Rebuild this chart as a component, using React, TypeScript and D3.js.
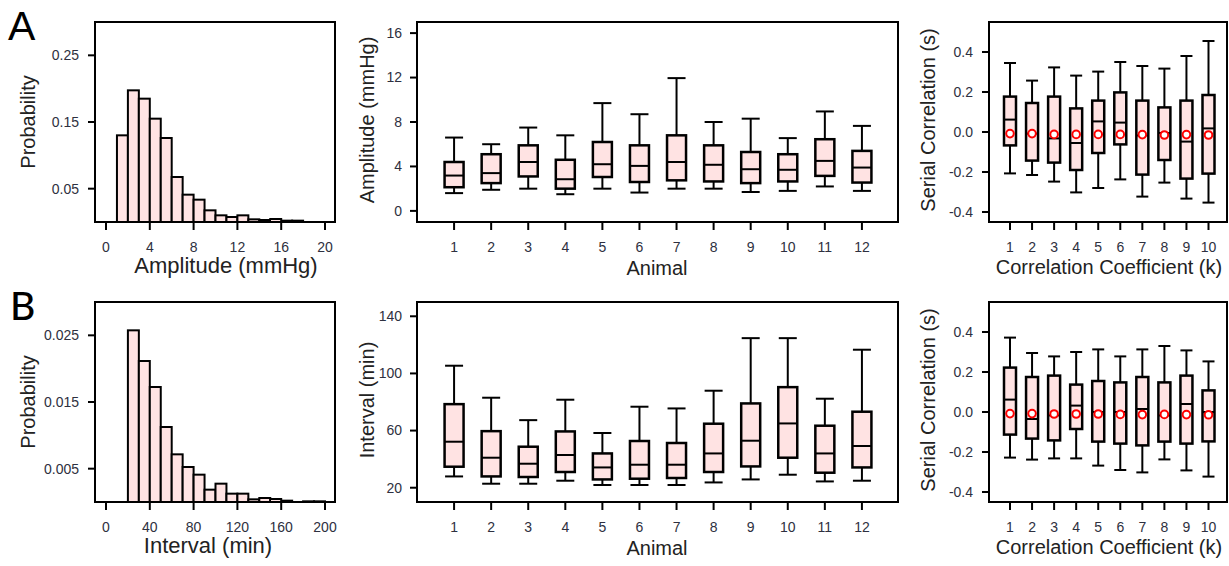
import React from "react";
import * as d3 from "d3";

// ---------- DATA ----------
// Panel A histogram (Amplitude, mmHg), bins of width 1
const ampBinLo = [1, 2, 3, 4, 5, 6, 7, 8, 9, 10, 11, 12, 13, 14, 15, 16, 17];
const ampProb = [0.13, 0.1975, 0.185, 0.155, 0.126, 0.0675, 0.041, 0.0335, 0.0175, 0.01, 0.0075, 0.01, 0.004, 0.003, 0.0045, 0.002, 0.002];
const ampHistXTicks = [0, 4, 8, 12, 16, 20];
const ampHistYTicks = [0.05, 0.15, 0.25];
const ampHistYLabels = ["0.05", "0.15", "0.25"];

// Panel B histogram (Interval, min), bins of width 10
const intBinLo = [20, 30, 40, 50, 60, 70, 80, 90, 100, 110, 120, 130, 140, 150, 160, 170, 180, 190];
const intProb = [0.02575, 0.02115, 0.01725, 0.01125, 0.00715, 0.00525, 0.0041, 0.00185, 0.00275, 0.00125, 0.00125, 0.0004, 0.0006, 0.00045, 0.0002, 0, 0.0001, 0.0001];
const intHistXTicks = [0, 40, 80, 120, 160, 200];
const intHistYTicks = [0.005, 0.015, 0.025];
const intHistYLabels = ["0.005", "0.015", "0.025"];

// Animals
const animals = [1, 2, 3, 4, 5, 6, 7, 8, 9, 10, 11, 12];
const ampHi = [6.6, 6.0, 7.5, 6.8, 9.7, 8.7, 11.95, 8.0, 8.3, 6.55, 8.95, 7.65];
const ampQ3 = [4.4, 5.1, 5.9, 4.6, 6.2, 5.9, 6.8, 5.9, 5.3, 5.1, 6.45, 5.4];
const ampMed = [3.18, 3.4, 4.4, 2.85, 4.2, 4.05, 4.4, 4.15, 3.75, 3.7, 4.5, 3.9];
const ampQ1 = [2.13, 2.5, 3.1, 2.0, 3.05, 2.6, 2.75, 2.65, 2.5, 2.65, 3.15, 2.55];
const ampLo = [1.6, 1.9, 2.0, 1.5, 2.0, 1.65, 2.0, 2.0, 1.7, 1.8, 2.2, 1.8];
const ampBoxYTicks = [0, 4, 8, 12, 16];

const intHi = [105.4, 83, 67.3, 81.6, 58.3, 76.7, 75.5, 87.9, 124.7, 124.7, 82.3, 116.6];
const intQ3 = [78.5, 59.6, 48.7, 59.4, 44, 52.7, 51.3, 64.8, 79, 90.4, 63.4, 73.2];
const intMed = [52.2, 41, 36.8, 42.9, 34.2, 36.1, 36.1, 44, 52.9, 65, 44, 49.2];
const intQ1 = [34.7, 27.9, 27.5, 31, 25.8, 26.3, 26.8, 31, 34.9, 41, 30.5, 34.2];
const intLo = [27.9, 22.8, 22.8, 24.9, 21.9, 21.9, 21.9, 23.7, 25.8, 29.1, 24.4, 24.9];
const intBoxYTicks = [20, 60, 100, 140];

// Serial correlation, lags k = 1..10
const lags = [1, 2, 3, 4, 5, 6, 7, 8, 9, 10];
const serAHi = [0.345, 0.257, 0.323, 0.282, 0.302, 0.35, 0.33, 0.317, 0.38, 0.455];
const serAQ3 = [0.177, 0.145, 0.177, 0.118, 0.157, 0.198, 0.157, 0.123, 0.157, 0.185];
const serAMed = [0.062, -0.008, -0.032, -0.055, 0.053, 0.047, -0.017, -0.005, -0.048, 0.018];
const serAQ1 = [-0.067, -0.143, -0.153, -0.19, -0.105, -0.062, -0.213, -0.14, -0.233, -0.208];
const serALo = [-0.207, -0.215, -0.248, -0.302, -0.28, -0.237, -0.323, -0.253, -0.333, -0.353];
const serAMean = [-0.008, -0.008, -0.012, -0.012, -0.012, -0.012, -0.013, -0.015, -0.013, -0.015];

const serBHi = [0.372, 0.295, 0.278, 0.3, 0.313, 0.278, 0.313, 0.33, 0.308, 0.253];
const serBQ3 = [0.222, 0.175, 0.182, 0.137, 0.155, 0.148, 0.175, 0.148, 0.182, 0.108];
const serBMed = [0.062, -0.035, -0.017, 0.032, 0.0, 0.0, 0.015, -0.017, 0.04, 0.0];
const serBQ1 = [-0.113, -0.133, -0.142, -0.085, -0.148, -0.158, -0.167, -0.148, -0.158, -0.147];
const serBLo = [-0.228, -0.238, -0.232, -0.232, -0.268, -0.29, -0.302, -0.237, -0.292, -0.323];
const serBMean = [-0.008, -0.008, -0.01, -0.01, -0.01, -0.012, -0.013, -0.012, -0.013, -0.014];
const serYTicks = [-0.4, -0.2, 0.0, 0.2, 0.4];
const serYLabels = ["-0.4", "-0.2", "0.0", "0.2", "0.4"];

// ---------- STYLE ----------
const FONT = "'Liberation Sans', Arial, Helvetica, sans-serif";
const FILL = "#ffe3e3";
const TICK_COLOR = "#2e3040";
const TITLE_COLOR = "#222";
const LW = 2;
const BOX_LW = 2.5;

type Frame = { left: number; right: number; top: number; bottom: number };

function YAxis({ f, y, ticks, labels, labelX, title, titleX, titleY }: any) {
  return (
    <g>
      {ticks.map((t: number, i: number) => (
        <g key={i}>
          <line x1={f.left - 7} x2={f.left} y1={y(t)} y2={y(t)} stroke="#000" strokeWidth={LW} />
          <text x={labelX} y={y(t)} dy="0.35em" textAnchor="end" fontSize={14} fill={TICK_COLOR} fontFamily={FONT}>
            {labels ? labels[i] : String(t)}
          </text>
        </g>
      ))}
      <text
        transform={`translate(${titleX},${titleY}) rotate(-90)`}
        textAnchor="middle"
        dominantBaseline="central"
        fontSize={20}
        fill={TITLE_COLOR}
        fontFamily={FONT}
      >
        {title}
      </text>
    </g>
  );
}

function XAxis({ f, x, ticks, labelY, title, titleX, titleY, titleSize }: any) {
  return (
    <g>
      {ticks.map((t: number, i: number) => (
        <g key={i}>
          <line x1={x(t)} x2={x(t)} y1={f.bottom} y2={f.bottom + 8} stroke="#000" strokeWidth={LW} />
          <text x={x(t)} y={labelY} textAnchor="middle" fontSize={14} fill={TICK_COLOR} fontFamily={FONT}>
            {String(t)}
          </text>
        </g>
      ))}
      <text x={titleX} y={titleY} textAnchor="middle" fontSize={titleSize || 20} fill={TITLE_COLOR} fontFamily={FONT}>
        {title}
      </text>
    </g>
  );
}

function FrameRect({ f }: { f: Frame }) {
  return (
    <rect x={f.left} y={f.top} width={f.right - f.left} height={f.bottom - f.top} fill="none" stroke="#000" strokeWidth={LW} />
  );
}

function Hist({ off, binLo, prob, binW, xMax, yMax, xTicks, yTicks, yLabels, xTitle, xTitleX }: any) {
  const f: Frame = { left: 95, right: 335, top: 22 + off, bottom: 222 + off };
  const x = d3.scaleLinear().domain([0, xMax]).range([106, 325]);
  const y = d3.scaleLinear().domain([0, yMax]).range([f.bottom, f.top]);
  return (
    <g>
      {binLo.map((b: number, i: number) =>
        prob[i] > 0 ? (
          <rect
            key={i}
            x={x(b)}
            y={y(prob[i])}
            width={x(b + binW) - x(b)}
            height={y(0) - y(prob[i])}
            fill={FILL}
            stroke="#000"
            strokeWidth={LW}
          />
        ) : null
      )}
      <FrameRect f={f} />
      <YAxis f={f} y={y} ticks={yTicks} labels={yLabels} labelX={f.left - 16} title="Probability" titleX={27.5} titleY={f.top + 100} />
      <XAxis f={f} x={x} ticks={xTicks} labelY={f.bottom + 30} title={xTitle} titleX={xTitleX} titleY={f.bottom + 51} titleSize={22} />
    </g>
  );
}

function Boxes({ cats, x, y, hi, q3, med, q1, lo, bw, cw, means }: any) {
  return (
    <g>
      {cats.map((c: number, i: number) => {
        const cx = x(c);
        return (
          <g key={i}>
            <line x1={cx} x2={cx} y1={y(hi[i])} y2={y(q3[i])} stroke="#000" strokeWidth={LW} />
            <line x1={cx} x2={cx} y1={y(q1[i])} y2={y(lo[i])} stroke="#000" strokeWidth={LW} />
            <line x1={cx - cw / 2} x2={cx + cw / 2} y1={y(hi[i])} y2={y(hi[i])} stroke="#000" strokeWidth={LW} />
            <line x1={cx - cw / 2} x2={cx + cw / 2} y1={y(lo[i])} y2={y(lo[i])} stroke="#000" strokeWidth={LW} />
            <rect x={cx - bw / 2} y={y(q3[i])} width={bw} height={y(q1[i]) - y(q3[i])} fill={FILL} stroke="#000" strokeWidth={BOX_LW} />
            <line x1={cx - bw / 2} x2={cx + bw / 2} y1={y(med[i])} y2={y(med[i])} stroke="#000" strokeWidth={LW} />
            {means ? (
              <circle cx={cx} cy={y(means[i])} r={3.8} fill="#fff" stroke="#ff0000" strokeWidth={2} />
            ) : null}
          </g>
        );
      })}
    </g>
  );
}

function AnimalPanel({ off, yDomain, hi, q3, med, q1, lo, yTicks, yTitle }: any) {
  const f: Frame = { left: 417, right: 898, top: 22 + off, bottom: 222 + off };
  const x = d3.scaleLinear().domain([0, 13]).range([417, 899]);
  const y = d3.scaleLinear().domain(yDomain).range([f.bottom, f.top]);
  return (
    <g>
      <Boxes cats={animals} x={x} y={y} hi={hi} q3={q3} med={med} q1={q1} lo={lo} bw={19} cw={18} />
      <FrameRect f={f} />
      <YAxis f={f} y={y} ticks={yTicks} labelX={f.left - 15} title={yTitle} titleX={367} titleY={f.top + 98} />
      <XAxis f={f} x={x} ticks={animals} labelY={f.bottom + 30} title="Animal" titleX={657} titleY={f.bottom + 53} />
    </g>
  );
}

function SerialPanel({ off, hi, q3, med, q1, lo, means }: any) {
  const f: Frame = { left: 989, right: 1227, top: 22 + off, bottom: 222 + off };
  const x = d3.scaleLinear().domain([1, 10]).range([1010, 1208.5]);
  const y = d3.scaleLinear().domain([-0.45, 0.55]).range([f.bottom, f.top]);
  return (
    <g>
      <Boxes cats={lags} x={x} y={y} hi={hi} q3={q3} med={med} q1={q1} lo={lo} bw={12} cw={12} means={means} />
      <FrameRect f={f} />
      <YAxis f={f} y={y} ticks={serYTicks} labels={serYLabels} labelX={f.left - 16} title="Serial Correlation (s)" titleX={927.5} titleY={f.top + 98} />
      <XAxis f={f} x={x} ticks={lags} labelY={f.bottom + 30} title="Correlation Coefficient (k)" titleX={1109} titleY={f.bottom + 52} />
    </g>
  );
}

export default function App() {
  return (
    <svg
      width={1229}
      height={566}
      viewBox="0 0 1229 566"
      style={{ position: "absolute", left: 0, top: 0, background: "#fff" }}
    >
      <rect x={0} y={0} width={1229} height={566} fill="#fff" />
      <text x={8} y={40} fontSize={41} fontFamily={FONT} fill="#000">A</text>
      <text x={10} y={320} fontSize={39} fontFamily="Lato, 'Open Sans', sans-serif" fontWeight={500} fill="#000">B</text>

      <Hist off={0} binLo={ampBinLo} prob={ampProb} binW={1} xMax={20} yMax={0.3} xTicks={ampHistXTicks} yTicks={ampHistYTicks} yLabels={ampHistYLabels} xTitle="Amplitude (mmHg)" xTitleX={226} />
      <Hist off={280} binLo={intBinLo} prob={intProb} binW={10} xMax={200} yMax={0.03} xTicks={intHistXTicks} yTicks={intHistYTicks} yLabels={intHistYLabels} xTitle="Interval (min)" xTitleX={208} />

      <AnimalPanel off={0} yDomain={[-1, 17]} hi={ampHi} q3={ampQ3} med={ampMed} q1={ampQ1} lo={ampLo} yTicks={ampBoxYTicks} yTitle="Amplitude (mmHg)" />
      <AnimalPanel off={280} yDomain={[10, 150]} hi={intHi} q3={intQ3} med={intMed} q1={intQ1} lo={intLo} yTicks={intBoxYTicks} yTitle="Interval (min)" />

      <SerialPanel off={0} hi={serAHi} q3={serAQ3} med={serAMed} q1={serAQ1} lo={serALo} means={serAMean} />
      <SerialPanel off={280} hi={serBHi} q3={serBQ3} med={serBMed} q1={serBQ1} lo={serBLo} means={serBMean} />
    </svg>
  );
}
